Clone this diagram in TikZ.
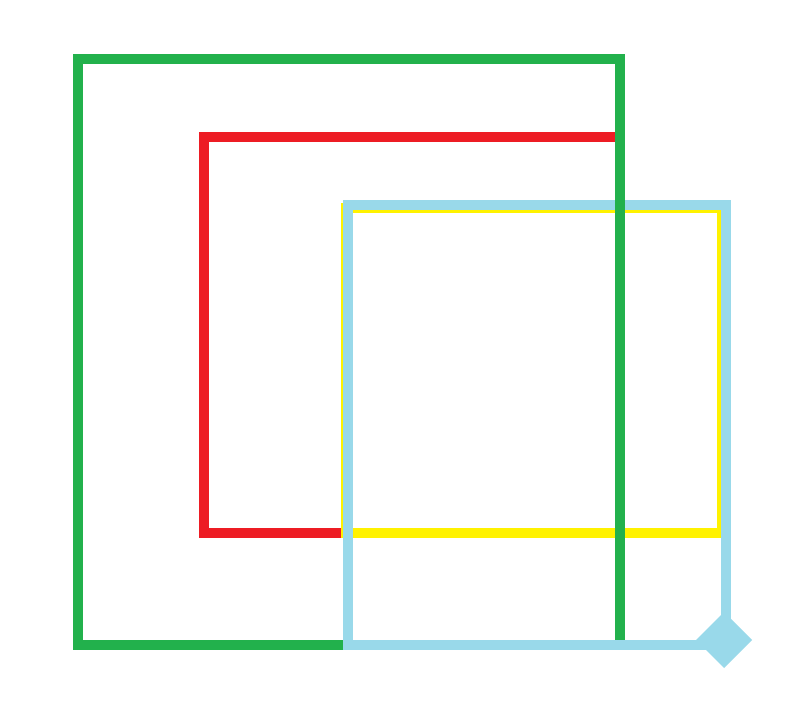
\documentclass[tikz,border=0pt]{standalone}
\definecolor{pgreen}{HTML}{22B14C}
\definecolor{pred}{HTML}{ED1C24}
\definecolor{pyellow}{HTML}{FFF200}
\definecolor{pblue}{HTML}{99D9EA}
\begin{document}
\begin{tikzpicture}[x=1pt,y=-1pt,line width=10pt,
  frame/.style={line join=miter}]
\useasboundingbox[fill=white] (0,0) rectangle (789,706);
\draw[frame,pred] (204,137) rectangle (620,533);
\draw[frame,pyellow] (346,208) rectangle (722,533);
\draw[frame,pblue] (726,645) -- (726,205) -- (348,205) -- (348,645);
\draw[frame,pgreen] (78,59) rectangle (620,645);
\draw[frame,pblue] (343,645) -- (726,645);
\fill[pblue] (724,612) -- (752,640) -- (724,668) -- (696,640) -- cycle;
\end{tikzpicture}
\end{document}
